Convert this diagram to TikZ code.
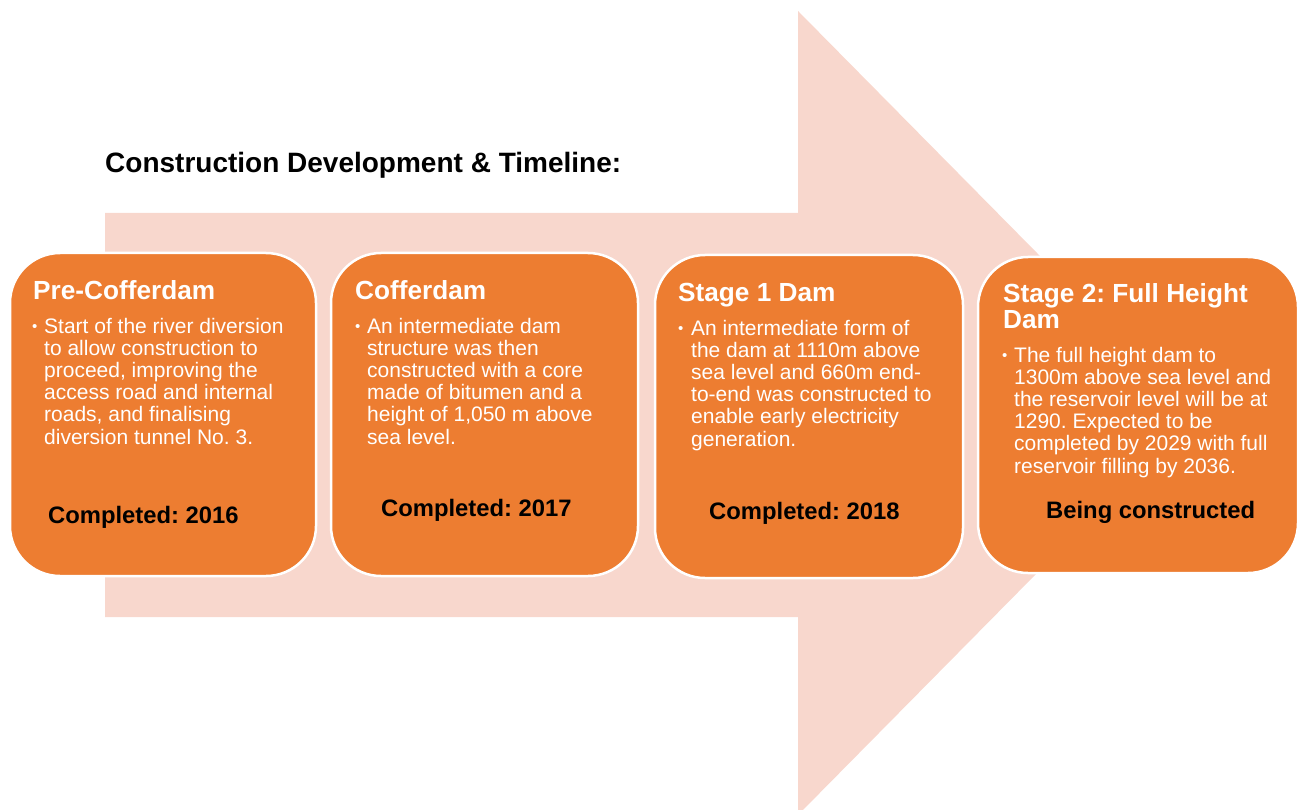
\documentclass[tikz,border=0pt]{standalone}
\usepackage{fontspec}
\setmainfont{Liberation Sans}
\frenchspacing
\definecolor{stageorange}{HTML}{ED7D31}
\definecolor{arrowpink}{HTML}{F8D7CD}
\tikzset{
  stagebox/.style={draw=white, line width=2.5pt, fill=stageorange, rounded corners=50pt, inner sep=0pt},
  stagetitle/.style={anchor=base west, inner sep=0pt, text=white, font=\fontsize{26.2}{26}\selectfont\bfseries, align=left},
  stagebody/.style={anchor=base west, inner sep=0pt, text=white, font=\fontsize{21}{22.2}\selectfont, align=left},
  stagebullet/.style={anchor=base west, inner sep=0pt, text=white, font=\fontsize{15}{15}\selectfont},
  stagestatus/.style={anchor=base west, inner sep=0pt, text=black, font=\fontsize{23.8}{24}\selectfont\bfseries},
}
\begin{document}
\begin{tikzpicture}[x=1pt, y=-1pt]
\useasboundingbox (0,0) rectangle (1300,810);
\clip (0,0) rectangle (1300,810);
% big arrow
\fill[arrowpink] (105,213) -- (798,213) -- (798,11) -- (1195,413) -- (798,815) -- (798,617) -- (105,617) -- cycle;
% heading
\node[anchor=base west, inner sep=0pt, font=\fontsize{28}{28}\selectfont\bfseries] (head) at (105,173) {Construction Development \& Timeline:};
% boxes
\node[stagebox, minimum width=306pt, minimum height=323pt] (b1) at (163,414.5) {};
\node[stagebox, minimum width=307pt, minimum height=323pt] (b2) at (484.5,414.5) {};
\node[stagebox, minimum width=308pt, minimum height=323pt] (b3) at (809,416.5) {};
\node[stagebox, minimum width=320pt, minimum height=316pt] (b4) at (1138,415) {};
% box 1 (multi-line nodes: base = last line's baseline)
\node[stagetitle] (t1) at (33,299) {Pre-Cofferdam};
\node[stagebullet] (u1) at (32,331) {•};
\node[stagebody] (d1) at (44,444) {Start of the river diversion\\to allow construction to\\proceed, improving the\\access road and internal\\roads, and finalising\\diversion tunnel No. 3.};
\node[stagestatus] (s1) at (48,523) {Completed: 2016};
% box 2
\node[stagetitle] (t2) at (355,299) {Cofferdam};
\node[stagebullet] (u2) at (355,331) {•};
\node[stagebody] (d2) at (367,444) {An intermediate dam\\structure was then\\constructed with a core\\made of bitumen and a\\height of 1,050 m above\\sea level.};
\node[stagestatus] (s2) at (381,516) {Completed: 2017};
% box 3
\node[stagetitle] (t3) at (678,301) {Stage 1 Dam};
\node[stagebullet] (u3) at (678,333) {•};
\node[stagebody] (d3) at (691,446) {An intermediate form of\\the dam at 1110m above\\sea level and 660m end-\\to-end was constructed to\\enable early electricity\\generation.};
\node[stagestatus] (s3) at (709,519) {Completed: 2018};
% box 4
\node[stagetitle] (t4) at (1003,328) {Stage 2: Full Height\\Dam};
\node[stagebullet] (u4) at (1002,360) {•};
\node[stagebody] (d4) at (1014,473) {The full height dam to\\1300m above sea level and\\the reservoir level will be at\\1290. Expected to be\\completed by 2029 with full\\reservoir filling by 2036.};
\node[stagestatus] (s4) at (1046,518) {Being constructed};
\end{tikzpicture}
\end{document}
